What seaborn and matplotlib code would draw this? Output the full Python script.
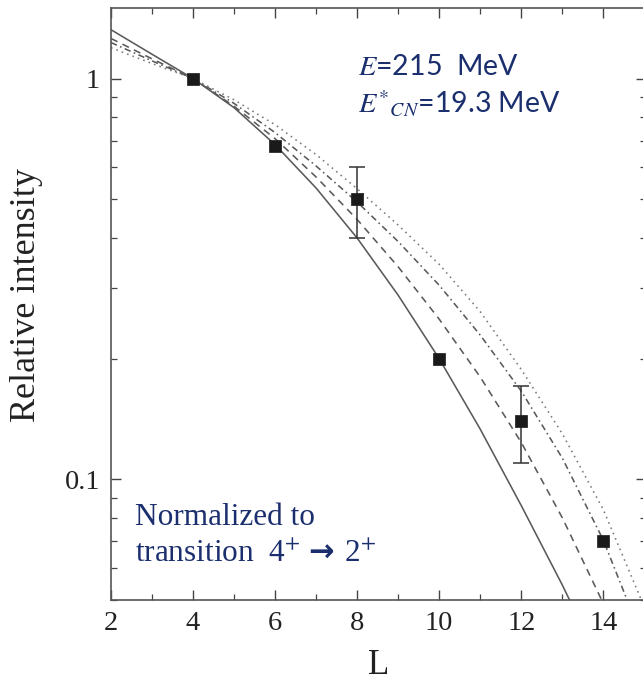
import numpy as np
import pandas as pd
import matplotlib
matplotlib.use("Agg")
import matplotlib.pyplot as plt
import seaborn as sns
from matplotlib.ticker import FixedLocator, NullFormatter, FixedFormatter

# ---------------- data ----------------
L_solid = [2, 3, 4, 5, 6, 7, 8, 9, 10, 11, 12, 13, 14]
I_solid = [1.324, 1.150, 1.0, 0.846, 0.684, 0.533, 0.400, 0.288, 0.200, 0.1334, 0.0860, 0.0545, 0.0335]

L_dashed = [2, 3, 4, 5, 6, 7, 8, 9, 10, 11, 12, 13, 14, 15]
I_dashed = [1.259, 1.120, 1.0, 0.853, 0.708, 0.568, 0.445, 0.339, 0.251, 0.180, 0.1236, 0.0802, 0.049, 0.028]

L_dashdot = [2, 3, 4, 5, 6, 7, 8, 9, 10, 11, 12, 13, 14, 15]
I_dashdot = [1.230, 1.107, 1.0, 0.867, 0.733, 0.605, 0.492, 0.392, 0.305, 0.229, 0.166, 0.113, 0.0705, 0.0390]

L_dotted = [2, 3, 4, 5, 6, 7, 8, 9, 10, 11, 12, 13, 14, 15]
I_dotted = [1.194, 1.090, 1.0, 0.885, 0.767, 0.646, 0.531, 0.431, 0.344, 0.262, 0.188, 0.130, 0.0840, 0.0480]

L_exp = [4, 6, 8, 10, 12, 14]
I_exp = [1.0, 0.68, 0.50, 0.20, 0.14, 0.070]
L_err = [8, 12]
I_err_val = [0.50, 0.14]
I_err_low = [0.40, 0.110]
I_err_high = [0.60, 0.171]

x_ticks = [2, 4, 6, 8, 10, 12, 14]
y_ticks = [0.1, 1]
y_ticklabels = ["0.1", "1"]

# ---------------- style ----------------
sns.set_style("ticks")
plt.rcParams["mathtext.fontset"] = "stix"
plt.rcParams["font.family"] = ["Liberation Serif", "DejaVu Serif"]

W, H = 643, 683
fig = plt.figure(figsize=(W / 100, H / 100), dpi=100)
ax = fig.add_axes([111 / W, (H - 600) / H, (646 - 111) / W, (600 - 8) / H])

curves = pd.concat([
    pd.DataFrame({"L": L_solid, "I": I_solid, "model": "solid"}),
    pd.DataFrame({"L": L_dashed, "I": I_dashed, "model": "dashed"}),
    pd.DataFrame({"L": L_dashdot, "I": I_dashdot, "model": "dashdot"}),
    pd.DataFrame({"L": L_dotted, "I": I_dotted, "model": "dotted"}),
], ignore_index=True)

dash_map = {"solid": "", "dashed": (4.5, 3.5), "dashdot": (4, 2.2, 1, 2.2), "dotted": (1, 2.6)}
color_map = {"solid": "#5a5a5a", "dashed": "#5a5a5a", "dashdot": "#5a5a5a", "dotted": "#7a7a7a"}
for name in ["solid", "dashed", "dashdot", "dotted"]:
    sub = curves[curves["model"] == name]
    sns.lineplot(data=sub, x="L", y="I", ax=ax, color=color_map[name], lw=1.15,
                 dashes=False, legend=False, sort=True, estimator=None)
    line = ax.lines[-1]
    line.set_solid_joinstyle("round")
    line.set_dash_joinstyle("round")
    if dash_map[name]:
        line.set_dashes(dash_map[name])

# error bars
yerr = [np.array(I_err_val) - np.array(I_err_low), np.array(I_err_high) - np.array(I_err_val)]
ax.errorbar(L_err, I_err_val, yerr=yerr, fmt="none", ecolor="#333333", elinewidth=1.1,
            capsize=6, capthick=1.1, zorder=4)

exp_df = pd.DataFrame({"L": L_exp, "I": I_exp})
sns.scatterplot(data=exp_df, x="L", y="I", ax=ax, marker="s", s=85, color="#1a1a1a",
                edgecolor="#1a1a1a", linewidth=0.5, zorder=5, legend=False)

# ---------------- axes ----------------
ax.set_yscale("log")
ax.set_xlim(2, 15.04)
ax.set_ylim(0.05, 1.5)

ax.xaxis.set_major_locator(FixedLocator(x_ticks))
ax.xaxis.set_minor_locator(FixedLocator(list(range(3, 16))))
ax.set_xticklabels([str(t) for t in x_ticks])

ax.yaxis.set_major_locator(FixedLocator(y_ticks))
ax.yaxis.set_major_formatter(FixedFormatter(y_ticklabels))
minors = [0.05, 0.06, 0.07, 0.08, 0.09, 0.2, 0.3, 0.4, 0.5, 0.6, 0.7, 0.8, 0.9]
ax.yaxis.set_minor_locator(FixedLocator(minors))
ax.yaxis.set_minor_formatter(NullFormatter())

ax.tick_params(which="both", direction="in", top=True, right=True, colors="#444444",
               labelcolor="#222222")
ax.tick_params(which="major", length=7.5, width=1.0, labelsize=20.5, pad=8)
ax.tick_params(which="minor", length=4.5, width=0.9)
for lab in ax.get_xticklabels() + ax.get_yticklabels():
    lab.set_fontfamily(["Liberation Serif"])

for sp in ax.spines.values():
    sp.set_color("#555555")
    sp.set_linewidth(1.2)

ax.set_xlabel("L", fontsize=25, family=["Liberation Serif"], color="#222222")
ax.xaxis.set_label_coords(0.5, -0.083)
ax.set_ylabel("Relative intensity", fontsize=26, family=["Liberation Serif"], color="#222222")
ax.yaxis.set_label_coords(-0.127, 0.515)

navy = "#1b2f6e"
fig.text(358 / W, (H - 75) / H, r"$E$=215  MeV", fontsize=20.5, color=navy,
         family=["Lato", "DejaVu Sans"], va="baseline", ha="left")
fig.text(358 / W, (H - 113) / H, r"$E^{*}{}_{CN}$=19.3 MeV", fontsize=20.5, color=navy,
         family=["Lato", "DejaVu Sans"], va="baseline", ha="left")

fig.text(135 / W, (H - 525) / H, "Normalized to", fontsize=22.5, color=navy,
         family=["Liberation Serif"], va="baseline", ha="left")
fig.text(135 / W, (H - 562) / H, r"transition  4$^{+}$", fontsize=22.5, color=navy,
         family=["Liberation Serif"], va="baseline", ha="left")
fig.text(308 / W, (H - 562) / H, "\u2192", fontsize=22, color=navy, fontweight="bold",
         family=["DejaVu Sans"], va="baseline", ha="left")
fig.text(344 / W, (H - 562) / H, r"2$^{+}$", fontsize=22.5, color=navy,
         family=["Liberation Serif"], va="baseline", ha="left")

fig.savefig("out.png", dpi=100)
